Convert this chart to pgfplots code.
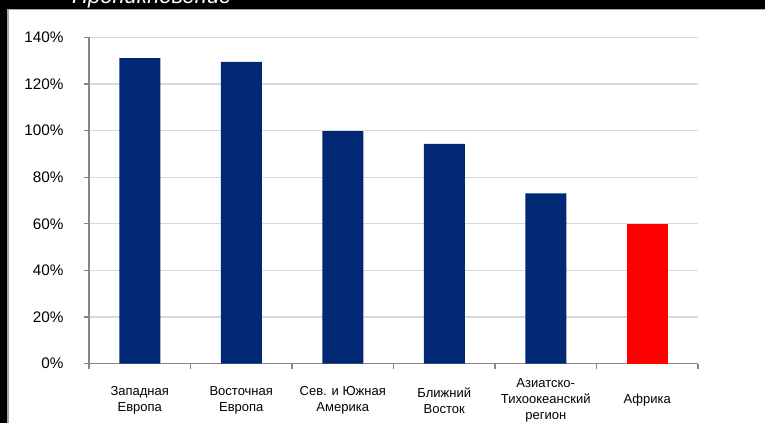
\documentclass[border=0pt]{standalone}
\usepackage{pgfplots}
\pgfplotsset{compat=1.18}
\usepackage{fontspec}
\setmainfont{Liberation Sans}
\definecolor{navybar}{RGB}{0,40,116}
\definecolor{axgray}{RGB}{134,134,134}
\definecolor{gridgray}{RGB}{217,217,217}
\begin{document}
\begin{tikzpicture}[x=1pt,y=1pt]
\useasboundingbox (0,0) rectangle (765,423);
\fill[black] (0,0) rectangle (765,423);
\fill[white] (7,0) rectangle (765,413);
\draw[gray!70, line width=1.5pt] (7.75,0) -- (7.75,413.25) -- (765,413.25);
\begin{scope}
\clip (0,0) rectangle (765,423);
\node[anchor=base west, inner sep=0pt, text=white, font=\fontsize{22}{26}\selectfont\itshape] at (72,419) {Проникновение};
\end{scope}
\begin{axis}[
  at={(89pt,59.5pt)}, anchor=south west,
  scale only axis,
  width=609pt, height=326pt,
  xmin=-0.5, xmax=5.5, ymin=0, ymax=140,
  axis x line=bottom, axis y line=left,
  axis line style={axgray, line width=1.3pt, -},
  ybar, bar width=41pt, bar shift=0pt,
  ytick={0,20,...,140},
  yticklabel={\pgfmathprintnumber{\tick}\%},
  ymajorgrids, grid style={gridgray, line width=1.3pt},
  xtick={-0.5,0.5,...,5.5},
  x tick label as interval,
  xticklabels={{Западная\\Европа},{Восточная\\Европа},{Сев. и Южная\\Америка},{Ближний\\Восток},{Азиатско-\\Тихоокеанский\\регион},{Африка}},
  tick align=outside, major tick length=5pt,
  tick style={axgray, line width=1.2pt},
  /pgf/number format/assume math mode=true,
  yticklabel style={font=\fontsize{15.3}{18}\selectfont, xshift=-17pt},
  xticklabel style={font=\fontsize{13}{15.8}\selectfont, align=center, anchor=center, yshift=-32pt},
  clip=false,
]
\addplot[fill=navybar, draw=none] coordinates {(0,131.1) (1,129.5) (2,99.8) (3,94.3) (4,73.1)};
\addplot[fill=red, draw=none] coordinates {(5,60.1)};
\end{axis}
\end{tikzpicture}
\end{document}
